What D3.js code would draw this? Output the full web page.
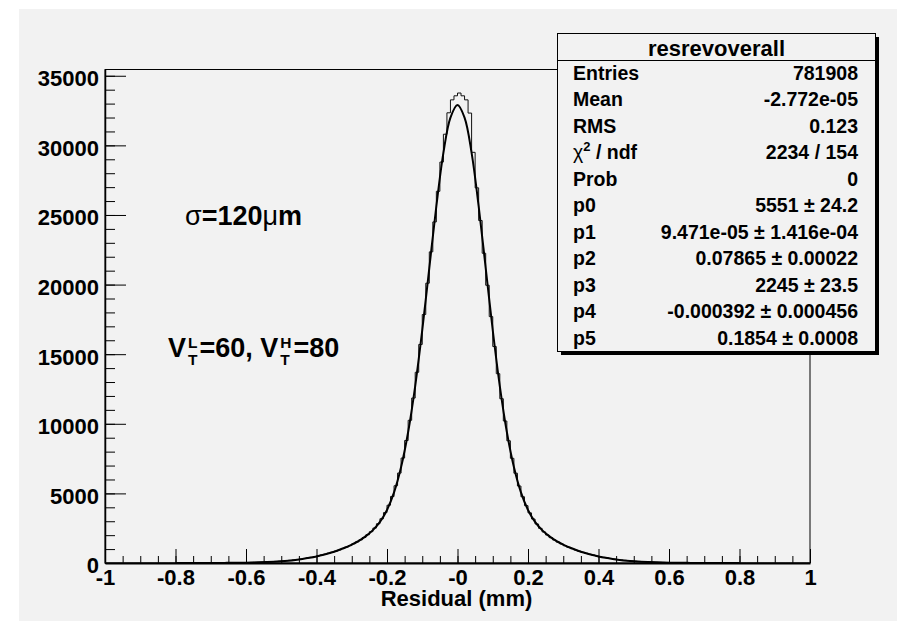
<!DOCTYPE html>
<html lang="en">
<head>
<meta charset="UTF-8">
<title>resrevoverall</title>
<script src="https://d3js.org/d3.v7.min.js"></script>
<style>
  body { margin: 0; background: #ffffff; }
  svg { display: block; font-family: 'Liberation Sans', Arial, Helvetica, sans-serif; }
  .bold { font-weight: bold; fill: #000; }
  .greek { font-weight: normal; }
  .tick text { font-family: 'Liberation Sans', Arial, sans-serif; font-weight: bold; font-size: 22px; fill: #000; }
  .tick line { stroke: #000; }
</style>
</head>
<body>
<svg id="chart" width="899" height="621"></svg>
<script>
// histogram: 200 bins of 0.01 between -1 and 1
const xMin = -1, xMax = 1, binWidth = 0.01;
const counts = [
  0, 1, 1, 0, 1, 1, 1, 2, 1, 2, 2, 2, 3, 2, 3, 3, 4, 3, 4, 4,
  5, 5, 6, 6, 7, 8, 9, 9, 10, 11,
  12, 14, 15, 17, 19, 22, 24, 27, 31, 35,
  40, 45, 52, 59, 68, 78, 89, 101, 116, 133,
  151, 172, 195, 222, 252, 285, 322, 362, 410, 460,
  515, 575, 635, 705, 775, 855, 940, 1035, 1140, 1250,
  1380, 1510, 1660, 1830, 2030, 2250, 2510, 2820, 3180, 3620,
  4150, 4780, 5550, 6460, 7540, 8800, 10250, 11850, 13700, 15700,
  17850, 20100, 22350, 24500, 26700, 28800, 30800, 32340, 33270, 33560,
  33760, 33560, 33270, 32320, 29500, 26950, 24600, 22250, 19950, 17700,
  15550, 13600, 11800, 10200, 8780, 7520, 6450, 5530, 4760, 4120,
  3600, 3160, 2800, 2490, 2230, 2010, 1820, 1650, 1500, 1370,
  1240, 1130, 1030, 935, 850, 770, 700, 630, 570, 510,
  455, 405, 360, 320, 282, 250, 220, 194, 170, 150,
  131, 115, 100, 88, 77, 67, 58, 51, 44, 39,
  34, 30, 27, 24, 21, 19, 17, 15, 13, 12,
  11, 10, 9, 8, 7, 7, 6, 5, 5, 4,
  4, 4, 3, 3, 3, 2, 3, 2, 2, 2, 1, 2, 1, 1, 2, 1, 1, 0, 1, 1
];

// fitted curve, sampled every 0.02 from -0.8 to 0.8
const fitStart = -0.8, fitStep = 0.02;
const fitValues = [
  0, 1, 1, 2, 3, 4, 6, 9, 12, 18, 26, 36, 50, 70, 95, 127, 169, 223, 289, 371,
  471, 591, 733, 901, 1096, 1325, 1590, 1930, 2360, 2950, 3810, 5070, 6890, 9410,
  12710, 16720, 21190, 25630, 29460, 32000,
  32900,
  32000, 29460, 25630, 21190, 16720, 12710, 9410, 6890, 5070, 3810, 2950, 2360,
  1930, 1590, 1325, 1096, 901, 733, 591, 471, 371, 289, 223, 169, 127, 95, 70,
  50, 36, 26, 18, 12, 9, 6, 4, 3, 2, 1, 1, 0
];

const xTicks = [-1, -0.8, -0.6, -0.4, -0.2, 0, 0.2, 0.4, 0.6, 0.8, 1];
const xTickLabels = ['-1', '-0.8', '-0.6', '-0.4', '-0.2', '-0', '0.2', '0.4', '0.6', '0.8', '1'];
const yTicks = [0, 5000, 10000, 15000, 20000, 25000, 30000, 35000];

const statsTitle = 'resrevoverall';
const statsLabels = ['Entries', 'Mean', 'RMS', 'chi2', 'Prob', 'p0', 'p1', 'p2', 'p3', 'p4', 'p5'];
const statsValues = ['781908', '-2.772e-05', '0.123', '2234 / 154', '0',
  '5551 \u00b1 24.2', '9.471e-05 \u00b1 1.416e-04', '0.07865 \u00b1 0.00022',
  '2245 \u00b1 23.5', '-0.000392 \u00b1 0.000456', '0.1854 \u00b1 0.0008'];

const bg = '#f2f2f2';
const frame = { left: 105, right: 810, top: 69.5, bottom: 563 };

const svg = d3.select('#chart');

svg.append('rect')
  .attr('x', 19).attr('y', 9)
  .attr('width', 878).attr('height', 612)
  .attr('fill', bg);

const x = d3.scaleLinear().domain([xMin, xMax]).range([frame.left, frame.right]);
const y = d3.scaleLinear().domain([0, 35450]).range([frame.bottom, frame.top]);

// frame
svg.append('rect')
  .attr('x', frame.left).attr('y', frame.top)
  .attr('width', frame.right - frame.left).attr('height', frame.bottom - frame.top)
  .attr('fill', 'none').attr('stroke', '#000').attr('stroke-width', 1);

svg.append('clipPath').attr('id', 'plotclip')
  .append('rect')
  .attr('x', frame.left).attr('y', frame.top)
  .attr('width', frame.right - frame.left).attr('height', frame.bottom - frame.top);

// minor ticks (no labels)
svg.append('g')
  .attr('transform', `translate(0,${frame.bottom})`)
  .call(d3.axisBottom(x).tickValues(d3.range(-1, 1.001, 0.05)).tickSize(-7).tickSizeOuter(0).tickFormat(''))
  .call(g => g.select('.domain').remove())
  .call(g => g.selectAll('text').remove());

svg.append('g')
  .attr('transform', `translate(${frame.left},0)`)
  .call(d3.axisLeft(y).tickValues(d3.range(0, 35001, 1000)).tickSize(-10).tickSizeOuter(0).tickFormat(''))
  .call(g => g.select('.domain').remove())
  .call(g => g.selectAll('text').remove());

// major ticks + labels
svg.append('g')
  .attr('transform', `translate(0,${frame.bottom})`)
  .call(d3.axisBottom(x).tickValues(xTicks).tickSize(-14).tickSizeOuter(0).tickPadding(6)
    .tickFormat((d, i) => xTickLabels[i]))
  .call(g => g.select('.domain').attr('stroke', '#000').attr('stroke-width', 2));

svg.append('g')
  .attr('transform', `translate(${frame.left},0)`)
  .call(d3.axisLeft(y).tickValues(yTicks).tickSize(-21).tickSizeOuter(0).tickPadding(6)
    .tickFormat(d3.format('d')))
  .call(g => g.select('.domain').attr('stroke', '#000').attr('stroke-width', 1.5))
  .call(g => g.selectAll('text').attr('dy', '0.45em'));

svg.append('text')
  .attr('class', 'bold')
  .attr('x', x(0) - 1).attr('y', 606)
  .attr('text-anchor', 'middle')
  .style('font-size', '22px')
  .text('Residual (mm)');

// histogram
const histPts = counts.map((c, i) => [xMin + i * binWidth, c]);
histPts.push([xMax, counts[counts.length - 1]]);

svg.append('path')
  .datum(histPts)
  .attr('clip-path', 'url(#plotclip)')
  .attr('fill', 'none')
  .attr('stroke', '#111')
  .attr('stroke-width', 1)
  .attr('d', d3.line().x(d => x(d[0])).y(d => y(d[1])).curve(d3.curveStepAfter));

// fit
svg.append('path')
  .datum(fitValues.map((v, i) => [fitStart + i * fitStep, v]))
  .attr('clip-path', 'url(#plotclip)')
  .attr('fill', 'none')
  .attr('stroke', '#000')
  .attr('stroke-width', 2)
  .attr('d', d3.line().x(d => x(d[0])).y(d => y(d[1])).curve(d3.curveCatmullRom.alpha(0.5)));

// annotations
const note1 = svg.append('text')
  .attr('class', 'bold').attr('x', 185).attr('y', 225).style('font-size', '27px');
note1.append('tspan').attr('class', 'greek').text('\u03c3');
note1.append('tspan').text('=120');
note1.append('tspan').attr('class', 'greek').text('\u03bc');
note1.append('tspan').text('m');

let cx = 168;
const base = 357;
function word(t) {
  const el = svg.append('text').attr('class', 'bold')
    .attr('x', cx).attr('y', base).style('font-size', '27px').text(t);
  cx += el.node().getComputedTextLength();
}
function stack(sup, sub) {
  const a = svg.append('text').attr('class', 'bold')
    .attr('x', cx + 2).attr('y', base - 9.5).style('font-size', '15.5px').text(sup);
  const b = svg.append('text').attr('class', 'bold')
    .attr('x', cx + 2).attr('y', base + 8).style('font-size', '15.5px').text(sub);
  cx += Math.max(a.node().getComputedTextLength(), b.node().getComputedTextLength()) + 4;
}
word('V'); stack('L', 'T'); word('=60, V'); stack('H', 'T'); word('=80');

// stats box
const box = { x: 557.5, y: 33.5, w: 318, h: 318 };
svg.append('rect')
  .attr('x', box.x + 3.5).attr('y', box.y + 3.5)
  .attr('width', box.w).attr('height', box.h)
  .attr('fill', '#000');
svg.append('rect')
  .attr('x', box.x).attr('y', box.y)
  .attr('width', box.w).attr('height', box.h)
  .attr('fill', bg).attr('stroke', '#000').attr('stroke-width', 1);
svg.append('line')
  .attr('x1', box.x).attr('x2', box.x + box.w)
  .attr('y1', 60.5).attr('y2', 60.5)
  .attr('stroke', '#000');
svg.append('text')
  .attr('class', 'bold')
  .attr('x', box.x + box.w / 2).attr('y', 56)
  .attr('text-anchor', 'middle')
  .style('font-size', '22px')
  .text(statsTitle);

const rowY = i => 80 + i * 26.45;
statsLabels.forEach((lab, i) => {
  const t = svg.append('text').attr('class', 'bold')
    .attr('x', 573).attr('y', rowY(i)).style('font-size', '19.5px');
  if (lab === 'chi2') {
    t.append('tspan').attr('class', 'greek').text('\u03c7');
    t.append('tspan').style('font-size', '13px').attr('dy', -8).text('2');
    t.append('tspan').attr('dy', 8).text(' / ndf');
  } else {
    t.text(lab);
  }
  svg.append('text').attr('class', 'bold')
    .attr('x', 858).attr('y', rowY(i))
    .attr('text-anchor', 'end').style('font-size', '19.5px')
    .text(statsValues[i]);
});
</script>
</body>
</html>
